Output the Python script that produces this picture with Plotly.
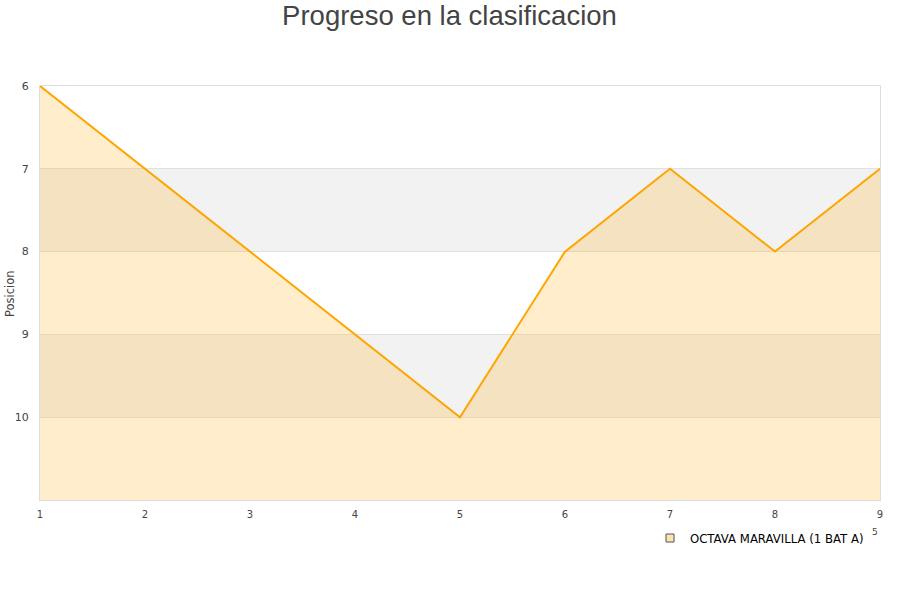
import plotly.graph_objects as go

jornadas = [1, 2, 3, 4, 5, 6, 7, 8, 9]
posiciones = [6, 7, 8, 9, 10, 8, 7, 8, 7]
y_ticks = [6, 7, 8, 9, 10]
team = "OCTAVA MARAVILLA (1 BAT A)"
title = "Progreso en la clasificacion"
y_title = "Posicion"

O = 0  # page body margin removed via post_script
L, R, T, B = 40 - O, 20 + O, 86 - O, 100 + O
PW, PH = 900 - L - R, 600 - T - B


def px(sx):
    return (sx - O - L) / PW


def py(sy):
    return -((sy - O) - (600 - B)) / PH


fig = go.Figure()

# baseline for fill (bottom of reversed axis)
fig.add_trace(go.Scatter(x=jornadas, y=[11] * len(jornadas), mode="lines",
                         line=dict(width=0, color="rgba(0,0,0,0)"),
                         showlegend=False, hoverinfo="skip"))
fig.add_trace(go.Scatter(x=jornadas, y=posiciones, mode="lines",
                         line=dict(color="#ffa500", width=2),
                         fill="tonexty", fillcolor="rgba(255,165,0,0.2)",
                         showlegend=False, name=team))
# legend entry
fig.add_trace(go.Scatter(x=[None], y=[None], mode="markers", name=team,
                         marker=dict(symbol="square", size=8, color="#fde3b4",
                                     line=dict(color="#555", width=1))))

for lo in [7, 9]:
    fig.add_shape(type="rect", xref="paper", yref="y", x0=0, x1=1, y0=lo, y1=lo + 1,
                  fillcolor="#f2f2f2", line=dict(width=0), layer="below")

fig.add_annotation(text="5", xref="paper", yref="paper",
                   x=px(875), y=py(532), xanchor="center", yanchor="middle",
                   showarrow=False, font=dict(size=9, color="#444"))
fig.add_annotation(text=y_title, xref="paper", yref="paper", textangle=-90,
                   x=px(10), y=py(294), xanchor="center", yanchor="middle",
                   showarrow=False, font=dict(size=11.5, color="#444"))

fig.update_layout(
    width=900, height=600,
    margin=dict(l=L, r=R, t=T, b=B, autoexpand=False),
    paper_bgcolor="white", plot_bgcolor="white",
    title=dict(text=title, x=(449.5 - O) / 900, xanchor="center",
               y=1 - (15 - O) / 600, yanchor="middle",
               font=dict(family="Liberation Sans, Arial, sans-serif", size=27.5, color="#444")),
    font=dict(family="DejaVu Sans, Arial, sans-serif", size=11, color="#444"),
    xaxis=dict(range=[1, 9], tickvals=jornadas, showgrid=False, zeroline=False,
               showline=True, linecolor="#ddd", mirror=True, ticks="",
               tickfont=dict(size=10), automargin=False, ticklabelstandoff=5),
    yaxis=dict(range=[11, 6], tickvals=y_ticks, showgrid=True, gridcolor="#e0e0e0",
               zeroline=False, showline=True, linecolor="#ddd", mirror=True, ticks="",
               tickfont=dict(size=11), automargin=False, ticklabelstandoff=8),
    legend=dict(x=px(650), y=py(538), xanchor="left", yanchor="middle",
                font=dict(size=11.7, color="#000"), bgcolor="rgba(0,0,0,0)"),
    showlegend=True,
)

fig.write_html("out.html", config={"displayModeBar": False},
               post_script="document.body.style.margin='0';document.body.style.overflow='hidden';")
